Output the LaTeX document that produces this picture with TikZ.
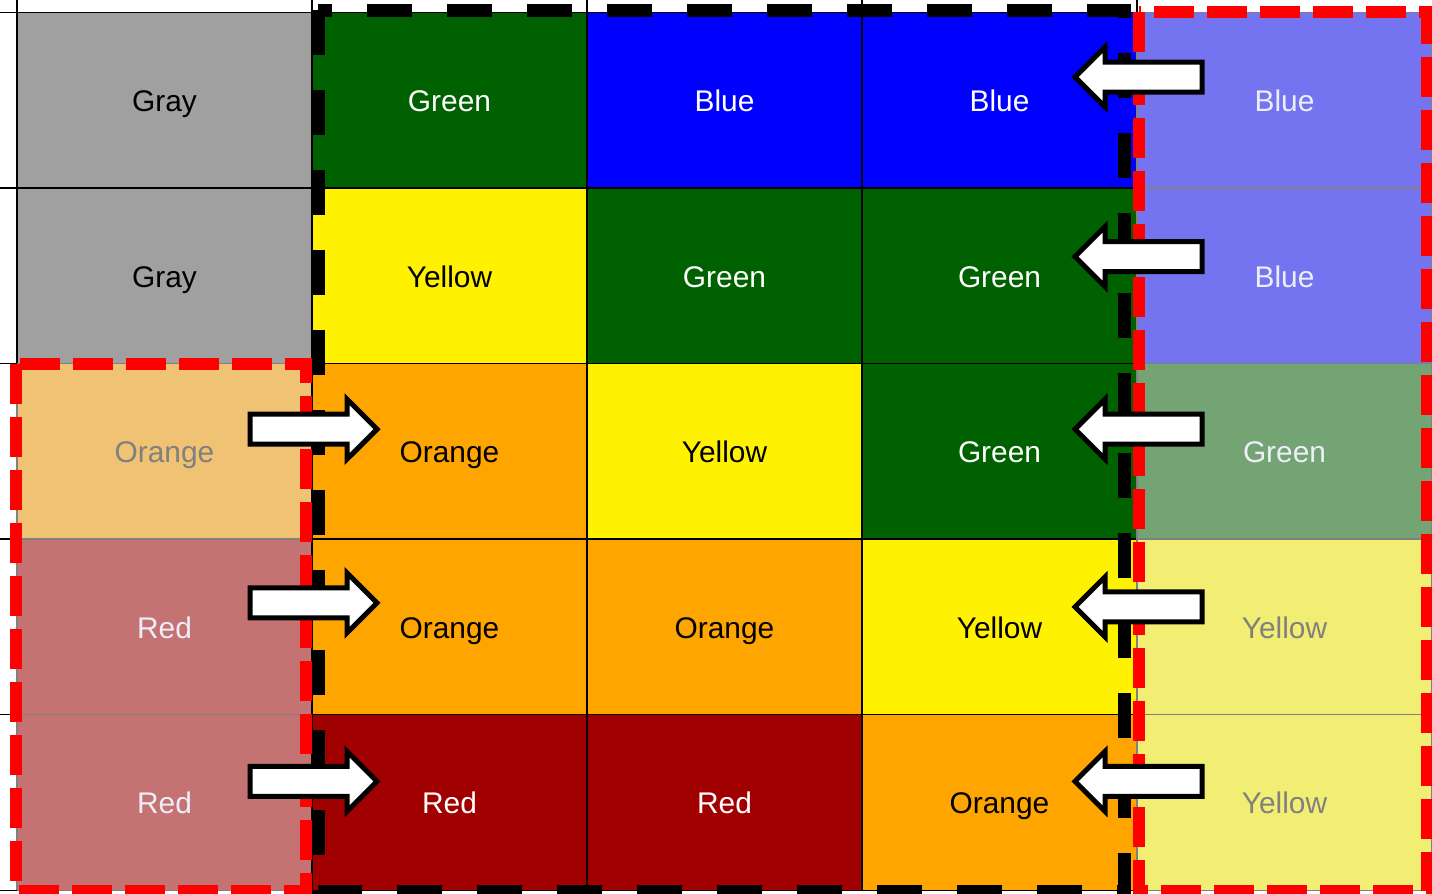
\documentclass[tikz,border=0pt]{standalone}
\usepackage{fontspec}
\setmainfont{Liberation Sans}
\usepackage{tikz}
\usetikzlibrary{positioning, shapes.arrows}
\usepackage{xcolor}

\definecolor{cellgray}{HTML}{A0A0A0}
\definecolor{dkgreen}{HTML}{006100}
\definecolor{dkred}{HTML}{A00000}
\definecolor{cellorange}{HTML}{FFA500}
\definecolor{paleblue}{HTML}{7474F0}
\definecolor{palegreen}{HTML}{74A474}
\definecolor{palered}{HTML}{C47272}
\definecolor{paleorange}{HTML}{F0C274}
\definecolor{paleyellow}{HTML}{F2EE74}
\definecolor{paletext}{HTML}{808080}
\definecolor{lighttext}{HTML}{EEEEFA}

\tikzset{
  cell/.style={rectangle, draw, inner sep=0pt, outer sep=0pt, line width=0.8pt,
    minimum width=5.5cm, minimum height=3.512cm, text height=13pt, text depth=0pt,
    font=\fontsize{17}{20}\selectfont},
  wide/.style={minimum width=5.9cm},
  graycell/.style={fill=cellgray, text=black},
  greencell/.style={fill=dkgreen, text=white},
  bluecell/.style={fill=blue, text=white},
  yellowcell/.style={fill=yellow, text=black},
  orangecell/.style={fill=cellorange, text=black},
  redcell/.style={fill=dkred, text=white},
  paleblue cell/.style={draw=paletext, fill=paleblue, text=lighttext},
  palegreen cell/.style={draw=paletext, fill=palegreen, text=lighttext},
  palered cell/.style={draw=paletext, fill=palered, text=lighttext},
  paleorange cell/.style={draw=paletext, fill=paleorange, text=paletext},
  paleyellow cell/.style={draw=paletext, fill=paleyellow, text=paletext},
  gridline/.style={line width=0.8pt},
  blackdash/.style={line width=0.26cm, dash pattern=on 0.9cm off 0.7cm},
  reddash/.style={draw=red, line width=0.24cm, dash pattern=on 0.8cm off 0.26cm},
  pushright/.style={single arrow, draw=black, fill=white, line width=0.1cm,
    inner sep=0.25cm, single arrow head extend=0.3cm, single arrow tip angle=90,
    minimum height=2.54cm},
  pushleft/.style={pushright, shape border rotate=180},
}

\begin{document}
\begin{tikzpicture}
  \useasboundingbox (0,0) rectangle (28.64,-17.86);

  % source column on the left
  \node (a1) [cell,wide,graycell] at (3.29,-2.0) {Gray};
  \node (a2) [cell,wide,graycell,below=0pt of a1] {Gray};
  \node (a3) [cell,wide,paleorange cell,below=0pt of a2] {Orange};
  \node (a4) [cell,wide,palered cell,below=0pt of a3] {Red};
  \node (a5) [cell,wide,palered cell,below=0pt of a4] {Red};

  % the block itself
  \node (b1) [cell,greencell,right=0pt of a1] {Green};
  \node (b2) [cell,yellowcell,below=0pt of b1] {Yellow};
  \node (b3) [cell,orangecell,below=0pt of b2] {Orange};
  \node (b4) [cell,orangecell,below=0pt of b3] {Orange};
  \node (b5) [cell,redcell,below=0pt of b4] {Red};

  \node (c1) [cell,bluecell,right=0pt of b1] {Blue};
  \node (c2) [cell,greencell,below=0pt of c1] {Green};
  \node (c3) [cell,yellowcell,below=0pt of c2] {Yellow};
  \node (c4) [cell,orangecell,below=0pt of c3] {Orange};
  \node (c5) [cell,redcell,below=0pt of c4] {Red};

  \node (d1) [cell,bluecell,right=0pt of c1] {Blue};
  \node (d2) [cell,greencell,below=0pt of d1] {Green};
  \node (d3) [cell,greencell,below=0pt of d2] {Green};
  \node (d4) [cell,yellowcell,below=0pt of d3] {Yellow};
  \node (d5) [cell,orangecell,below=0pt of d4] {Orange};

  % source column on the right
  \node (e1) [cell,wide,paleblue cell,right=0pt of d1] {Blue};
  \node (e2) [cell,wide,paleblue cell,below=0pt of e1] {Blue};
  \node (e3) [cell,wide,palegreen cell,below=0pt of e2] {Green};
  \node (e4) [cell,wide,paleyellow cell,below=0pt of e3] {Yellow};
  \node (e5) [cell,wide,paleyellow cell,below=0pt of e4] {Yellow};

  % sheet grid in the margins
  \foreach \n in {a1,b1,c1,d1,e1}
    \draw [gridline] (\n.north west) -- ++(0,0.24);
  \foreach \n in {a1,a2,a3,a4,a5}
    \draw [gridline] (\n.north west) -- ++(-0.34,0);
  \draw [gridline] (a5.south west) -- ++(-0.34,0);

  % frames
  \draw [blackdash] ([xshift=0.12cm,yshift=0.04cm]b1.north west) rectangle ([xshift=-0.26cm,yshift=-0.02cm]d5.south east);
  \draw [reddash] ([xshift=-0.02cm,yshift=-0.02cm]a3.north west) rectangle ([xshift=-0.12cm,yshift=-0.02cm]a5.south east);
  \draw [reddash] ([xshift=0.04cm]e1.north west) rectangle ([xshift=-0.1cm,yshift=-0.02cm]e5.south east);

  % shifts
  \node (r3) [pushright] at ([xshift=-0.12cm,yshift=0.44cm]a3.east) {};
  \node (r4) [pushright] at ([xshift=-0.12cm,yshift=0.48cm]a4.east) {};
  \node (r5) [pushright] at ([xshift=-0.12cm,yshift=0.42cm]a5.east) {};
  \node (l1) [pushleft] at ([xshift=0.18cm,yshift=0.46cm]d1.east) {};
  \node (l2) [pushleft] at ([xshift=0.18cm,yshift=0.38cm]d2.east) {};
  \node (l3) [pushleft] at ([xshift=0.18cm,yshift=0.44cm]d3.east) {};
  \node (l4) [pushleft] at ([xshift=0.18cm,yshift=0.40cm]d4.east) {};
  \node (l5) [pushleft] at ([xshift=0.18cm,yshift=0.42cm]d5.east) {};
\end{tikzpicture}
\end{document}
